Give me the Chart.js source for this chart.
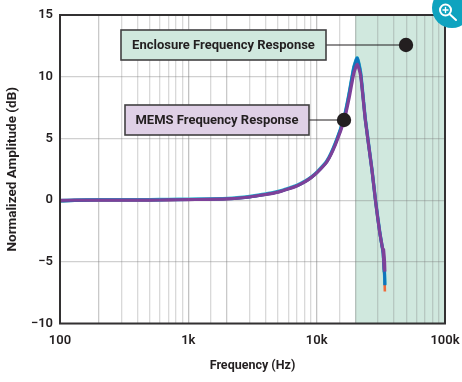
<!DOCTYPE html>
<html><head><meta charset="utf-8">
<script src="https://cdn.jsdelivr.net/npm/chart.js@4"></script>
<style>html,body{margin:0;padding:0;background:#fff}canvas{display:block}</style>
</head><body><canvas id="c" width="462" height="382"></canvas>
<script>
const xTitle = 'Frequency (Hz)';
const yTitle = 'Normalized Amplitude (dB)';
const tickNames = {100:'100',1000:'1k',10000:'10k',100000:'100k'};
const bandRange = [20000,100000];
const enclosureLabel = 'Enclosure Frequency Response';
const memsLabel = 'MEMS Frequency Response';
const freq = [100,130,200,300,500,700,1000,2000,3000,4000,5000,6000,7000,8000,9000,10000,12000,14000,16400,18000,19500,20700,22000,24000,27000,28700,31000,33000];
const memsDb = [-0.03,0,0,0,0,0.02,0.04,0.1,0.25,0.45,0.65,0.9,1.15,1.45,1.8,2.2,3.1,4.5,6.5,8.4,10.3,11.0,10.1,6.4,2.4,0,-2.6,-4.2];
const enclosureDb = [-0.08,-0.03,0,0,0,0.02,0.04,0.1,0.26,0.46,0.66,0.91,1.16,1.46,1.81,2.21,3.13,4.6,6.7,8.75,10.75,11.5,10.3,6.45,2.4,0,-2.6,-4.3];
const tailFreq = [33000,33600,33200,33800,34000];
const memsTail = [-4.2,-5.6,-4.0,-5.0,-5.8];
const blueTail = [-4.3,-5.8,-4.6,-6.0,-6.9];
const orangeTail = [-4.3,-6.0,-5.0,-6.5,-7.4];
const toPts = (f,v)=>f.map((x,i)=>({x,y:v[i]}));
const enclosure = toPts(freq,enclosureDb).concat(toPts(tailFreq,blueTail));
const orange = toPts(freq,enclosureDb).concat(toPts(tailFreq,orangeTail));
const mems = toPts(freq,memsDb).concat(toPts(tailFreq,memsTail));
const FONT='Roboto, sans-serif';
function box(ctx,x,y,w,h,fill,text,lx,ly){
  ctx.strokeStyle='#231f20';ctx.lineWidth=1.2;
  ctx.beginPath();ctx.moveTo(x+w,ly);ctx.lineTo(lx,ly);ctx.stroke();
  ctx.fillStyle='#231f20';ctx.beginPath();ctx.arc(lx,ly,7.2,0,Math.PI*2);ctx.fill();
  ctx.fillStyle=fill;ctx.fillRect(x,y,w,h);
  ctx.strokeStyle='#414042';ctx.lineWidth=1.6;ctx.strokeRect(x,y,w,h);
  ctx.fillStyle='#231f20';ctx.font='700 13px '+FONT;ctx.textAlign='center';ctx.textBaseline='middle';
  ctx.fillText(text,x+w/2,y+h/2+0.5);
}
const decor={
  id:'decor',
  beforeDraw(ch){
    const c=ch.ctx,a=ch.chartArea,xs=ch.scales.x;
    c.save();c.fillStyle='#d0e8de';
    const x0=xs.getPixelForValue(bandRange[0]),x1=xs.getPixelForValue(bandRange[1]);
    c.fillRect(x0,a.top,x1-x0,a.bottom-a.top);c.restore();
  },
  afterDraw(ch){
    const c=ch.ctx,a=ch.chartArea;
    c.save();
    c.strokeStyle='#333132';c.lineWidth=2;c.strokeRect(a.left,a.top,a.right-a.left,a.bottom-a.top);
    box(c,121,30,205,30,'#d0e8de',enclosureLabel,406,45);
    box(c,125,105,184,30,'#dfd0e6',memsLabel,344,120);
    c.fillStyle='#0ea3bf';c.beginPath();c.arc(452,8,20,0,Math.PI*2);c.fill();
    c.strokeStyle='#fff';c.lineWidth=2;c.beginPath();c.arc(445.5,10,5.5,0,Math.PI*2);c.stroke();
    c.lineCap='round';c.beginPath();c.moveTo(450,14.5);c.lineTo(456,20);c.stroke();
    c.lineWidth=1.4;c.beginPath();c.moveTo(443,10);c.lineTo(448,10);c.moveTo(445.5,7.5);c.lineTo(445.5,12.5);c.stroke();
    c.restore();
  }
};
const line=(data,color,w,order)=>({data,borderColor:color,borderWidth:w,pointRadius:0,tension:0.2,order,fill:false});
new Chart(document.getElementById('c'),{
  type:'line',
  data:{datasets:[
    line(mems,'#7d4199',3.2,1),
    line(enclosure,'#0f75bc',3,2),
    line(enclosure.map(p=>({x:p.x,y:p.y+0.04})),'#35b8cf',3.4,3),
    line(orange,'#ef6a3a',2.6,4)
  ]},
  plugins:[decor],
  options:{
    responsive:false,animation:false,
    layout:{padding:{left:0,top:15,right:17,bottom:0}},
    plugins:{legend:{display:false},tooltip:{enabled:false}},
    scales:{
      x:{type:'logarithmic',min:100,max:100000,
        afterFit(s){s.height=58.5;s.paddingLeft=0;s.paddingRight=0;},
        border:{display:false},
        grid:{color:c=>tickNames[c.tick.value]?'rgba(120,120,120,0.45)':(c.tick.value===200||c.tick.value===2000||c.tick.value===20000?'rgba(120,120,120,0.4)':'rgba(120,120,120,0.28)'),lineWidth:1.3,drawTicks:false},
        ticks:{autoSkip:false,maxRotation:0,padding:9,color:'#231f20',font:{family:FONT,size:13,weight:'600'},
          callback:v=>tickNames[v]||''},
        title:{display:true,text:xTitle,color:'#231f20',font:{family:FONT,size:12.5,weight:'700'},padding:{top:9,bottom:9}}
      },
      y:{min:-10,max:15,
        afterFit(s){s.width=60;s.paddingTop=0;s.paddingBottom=0;},
        border:{display:false},
        grid:{color:'rgba(120,120,120,0.35)',lineWidth:1.2,drawTicks:false},
        ticks:{stepSize:5,padding:7,color:'#231f20',font:{family:FONT,size:13,weight:'600'},
          callback:v=>String(v).replace('-','\u2212')},
        title:{display:true,text:yTitle,color:'#231f20',font:{family:FONT,size:13.5,weight:'700'},padding:{top:5,bottom:2}}
      }
    }
  }
});
</script></body></html>
